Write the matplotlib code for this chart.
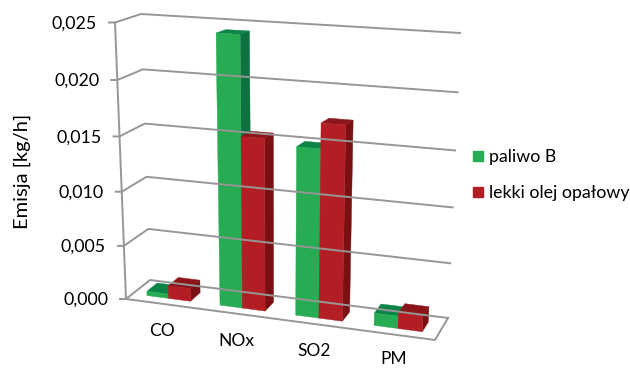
import numpy as np
import matplotlib
matplotlib.use("Agg")
import matplotlib.pyplot as plt
from matplotlib.patches import Polygon, Rectangle

plt.rcParams['font.family'] = ['Lato', 'DejaVu Sans']

# chart data
categories = ["CO", "NOx", "SO2", "PM"]
paliwo_b = [0.0004, 0.0243, 0.0150, 0.0011]
lekki_olej = [0.0012, 0.0155, 0.0172, 0.0014]
y_ticks = [0.000, 0.005, 0.010, 0.015, 0.020, 0.025]
y_max = 0.025

# screen corners of the 3D box, as excel drew it
# keys: (right?, back?, top?)
corners = {
    (0, 0, 0): (126, 299), (1, 0, 0): (435, 340),
    (0, 1, 0): (150, 280), (1, 1, 0): (448, 318),
    (0, 0, 1): (115, 22.5), (1, 0, 1): (447, 38),
    (0, 1, 1): (141, 14), (1, 1, 1): (460, 33),
}

green = ("#27ab53", "#0d8447", "#0f7040")
red = ("#b31e24", "#8b1518", "#7a1012")
grid_col = "#969696"


# category position, depth 0-1, value -> pixel position
def project(u, w, v):
    a, b, c = u / len(categories), w, v / y_max
    # small perspective bend along width and height
    a = a - 0.07 * a * (1 - a)
    c = c - 0.05 * c * (1 - c)
    x, y = 0, 0
    for (i, j, k), (px, py) in corners.items():
        f = (a if i else 1 - a) * (b if j else 1 - b) * (c if k else 1 - c)
        x += f * px
        y += f * py
    return x, y


def draw_bar(ax, u0, u1, value, colors):
    w0, w1 = 0.28, 0.72
    front = [project(u0, w0, 0), project(u1, w0, 0), project(u1, w0, value), project(u0, w0, value)]
    side = [project(u1, w0, 0), project(u1, w1, 0), project(u1, w1, value), project(u1, w0, value)]
    top = [project(u0, w0, value), project(u1, w0, value), project(u1, w1, value), project(u0, w1, value)]
    ax.add_patch(Polygon(side, color=colors[2], lw=0.3))
    ax.add_patch(Polygon(top, color=colors[1], lw=0.3))
    ax.add_patch(Polygon(front, color=colors[0], lw=0.3))


fig = plt.figure(figsize=(6.3, 3.68), dpi=100)
ax = fig.add_axes([0, 0, 1, 1])
ax.set_xlim(0, 630)
ax.set_ylim(368, 0)
ax.axis("off")

n = len(categories)

# gridlines on the walls and tick labels
for t in y_ticks:
    a = project(0, 0, t)
    b = project(0, 1, t)
    c = project(n, 1, t)
    ax.plot([a[0] - 6, a[0], b[0], c[0]], [a[1], a[1], b[1], c[1]], color=grid_col, lw=1.4)
    ax.text(a[0] - 18, a[1] + 1, f"{t:.3f}".replace(".", ","), ha="right", va="center", fontsize=12.8, color="black")

# left edge and floor
pts = [project(0, 0, y_max), project(0, 0, 0), project(n, 0, 0), project(n, 1, 0)]
ax.plot([p[0] for p in pts], [p[1] for p in pts], color=grid_col, lw=1.4)

# bars
bar_w = 0.3
for i in range(n):
    start = i + 0.2
    draw_bar(ax, start, start + bar_w, paliwo_b[i], green)
    draw_bar(ax, start + bar_w, start + 2 * bar_w, lekki_olej[i], red)

# category labels, the last one sits right at the bottom edge
label_dy = [27, 27, 27, 24.5]
for i, name in enumerate(categories):
    x, y = project(i + 0.5, 0, 0)
    ax.text(x, y + label_dy[i], name, ha="center", va="center", fontsize=12.5, color="black")

ax.text(22, 171, "Emisja [kg/h]", rotation=90, ha="center", va="center", fontsize=14.5, color="black")

# legend
ax.add_patch(Rectangle((473, 151), 10, 10, color=green[0]))
ax.add_patch(Rectangle((473, 187), 10, 10, color=red[0]))
ax.text(489, 157, "paliwo B", va="center", fontsize=12.8, color="black")
ax.text(489, 193, "lekki olej opałowy", va="center", fontsize=12.8, color="black")

fig.savefig("out.png", dpi=100)
